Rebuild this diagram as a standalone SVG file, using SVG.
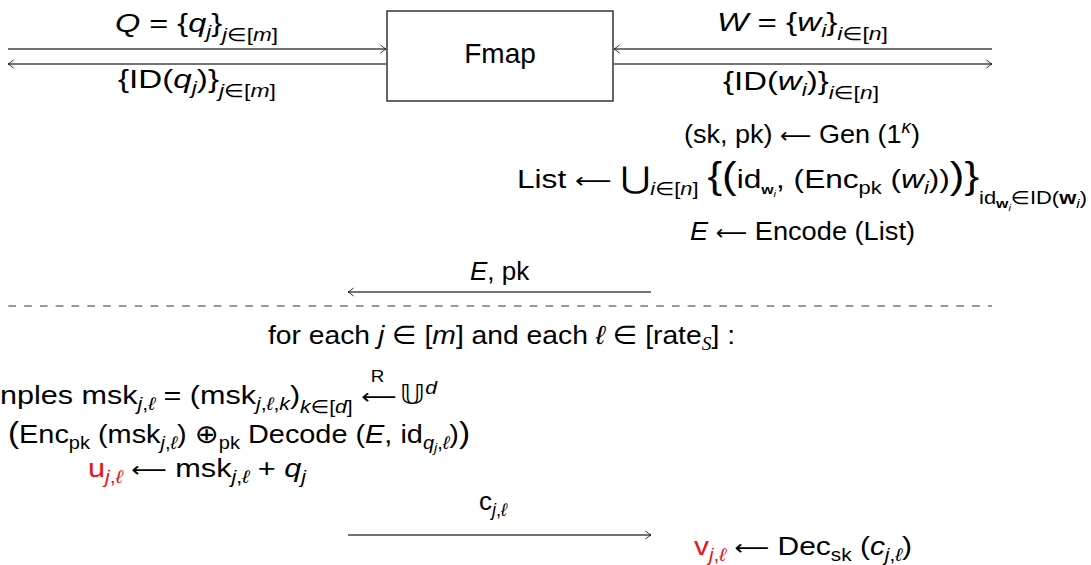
<svg xmlns="http://www.w3.org/2000/svg" width="1091" height="565" viewBox="0 0 1091 565">
<defs>
<style>
.t{font-family:"Liberation Sans","DejaVu Sans",sans-serif;font-size:26px;fill:#000}
.i{font-style:italic}
.s{font-size:18px}
.ss{font-size:13px}
.b{font-weight:bold}
.r{fill:#e8141c}
.ar{font-family:"DejaVu Sans",sans-serif;font-weight:normal;font-size:21px}
.big{font-size:36px}
.ln{stroke:#444;stroke-width:1.3;fill:none}
</style>
<marker id="ah" viewBox="-7 -5 8 10" markerWidth="8" markerHeight="10" refX="0" refY="0" orient="auto" markerUnits="userSpaceOnUse">
<path d="M-5.5,-4 Q-2,-1 0,0 Q-2,1 -5.5,4" fill="none" stroke="#222" stroke-width="1"/>
</marker>
</defs>
<rect width="1091" height="565" fill="#fff"/>

<g id="connectors">
<line class="ln" x1="8" y1="49" x2="386" y2="49" marker-end="url(#ah)"/>
<line class="ln" x1="386" y1="64" x2="8" y2="64" marker-end="url(#ah)"/>
<line class="ln" x1="992" y1="49" x2="614" y2="49" marker-end="url(#ah)"/>
<line class="ln" x1="614" y1="64" x2="992" y2="64" marker-end="url(#ah)"/>
<line class="ln" x1="651" y1="292" x2="348" y2="292" marker-end="url(#ah)"/>
<line class="ln" x1="348" y1="535" x2="651" y2="535" marker-end="url(#ah)"/>
<line x1="8.3" y1="306" x2="992" y2="306" stroke="#777" stroke-width="1.6" stroke-dasharray="7.7 8.1"/>
</g>

<g id="fmap">
<rect x="387" y="11" width="226" height="90" fill="#fff" stroke="#000" stroke-width="1.2"/>
<text class="t" x="500" y="63" text-anchor="middle" style="font-size:28px">Fmap</text>
</g>

<g id="labels-top">
<text class="t" x="115" y="32" textLength="163" lengthAdjust="spacingAndGlyphs"><tspan class="i">Q</tspan> = {<tspan class="i">q</tspan><tspan class="s i" dy="6">j</tspan><tspan dy="-6">}</tspan><tspan class="s" dy="9"><tspan class="i">j</tspan>∈[<tspan class="i">m</tspan>]</tspan></text>
<text class="t" x="118" y="88" textLength="158" lengthAdjust="spacingAndGlyphs">{ID(<tspan class="i">q</tspan><tspan class="s i" dy="6">j</tspan><tspan dy="-6">)}</tspan><tspan class="s" dy="9"><tspan class="i">j</tspan>∈[<tspan class="i">m</tspan>]</tspan></text>
<text class="t" x="717" y="31" textLength="171" lengthAdjust="spacingAndGlyphs"><tspan class="i">W</tspan> = {<tspan class="i">w</tspan><tspan class="s i" dy="6">i</tspan><tspan dy="-6">}</tspan><tspan class="s" dy="9"><tspan class="i">i</tspan>∈[<tspan class="i">n</tspan>]</tspan></text>
<text class="t" x="723" y="90" textLength="156" lengthAdjust="spacingAndGlyphs">{ID(<tspan class="i">w</tspan><tspan class="s i" dy="6">i</tspan><tspan dy="-6">)}</tspan><tspan class="s" dy="9"><tspan class="i">i</tspan>∈[<tspan class="i">n</tspan>]</tspan></text>
</g>

<g id="setup">
<text class="t" x="684" y="143" textLength="236" lengthAdjust="spacingAndGlyphs">(sk, pk) <tspan class="ar">⟵</tspan> Gen (1<tspan class="s i" dy="-10">κ</tspan><tspan dy="10">)</tspan></text>
<text class="t" x="517" y="188" textLength="570" lengthAdjust="spacingAndGlyphs">List <tspan class="ar">⟵</tspan> <tspan style="font-size:30px">⋃</tspan><tspan class="s" dy="7"><tspan class="i">i</tspan>∈[<tspan class="i">n</tspan>]</tspan><tspan dy="-7"> </tspan><tspan class="big">{</tspan><tspan class="big">(</tspan>id<tspan class="ss b" dy="6">w</tspan><tspan class="i" dy="3" style="font-size:9px">i</tspan><tspan dy="-9">, (Enc</tspan><tspan class="s" dy="6">pk</tspan><tspan dy="-6"> (</tspan><tspan class="i">w</tspan><tspan class="s i" dy="6">i</tspan><tspan dy="-6">))</tspan><tspan class="big">)</tspan><tspan class="big">}</tspan><tspan class="s" dy="16">id</tspan><tspan class="ss b" dy="4">w</tspan><tspan class="i" style="font-size:9px" dy="3">i</tspan><tspan class="s" dy="-7">∈ID(</tspan><tspan class="s b">w</tspan><tspan class="ss i" dy="4">i</tspan><tspan class="s" dy="-4">)</tspan></text>
<text class="t" x="690" y="240" textLength="225" lengthAdjust="spacingAndGlyphs"><tspan class="i">E</tspan> <tspan class="ar">⟵</tspan> Encode (List)</text>
<text class="t" x="470" y="280"><tspan class="i">E</tspan>, pk</text>
</g>

<g id="loop">
<text class="t" x="268" y="344" textLength="467" lengthAdjust="spacingAndGlyphs">for each <tspan class="i">j</tspan> ∈ [<tspan class="i">m</tspan>] and each <tspan class="i">ℓ</tspan> ∈ [rate<tspan class="s i" dy="6" style="font-family:'Liberation Serif',serif">S</tspan><tspan dy="-6">] :</tspan></text>
<text class="t" x="0" y="404" textLength="437" lengthAdjust="spacingAndGlyphs">nples msk<tspan class="s" dy="6"><tspan class="i">j</tspan>,<tspan class="i">ℓ</tspan></tspan><tspan dy="-6"> = (msk</tspan><tspan class="s" dy="6"><tspan class="i">j</tspan>,<tspan class="i">ℓ</tspan>,<tspan class="i">k</tspan></tspan><tspan dy="-6">)</tspan><tspan class="s" dy="9"><tspan class="i">k</tspan>∈[<tspan class="i">d</tspan>]</tspan><tspan dy="-9"> </tspan><tspan class="ar">⟵</tspan><tspan style="font-size:16px" dx="-22" dy="-22">R</tspan><tspan dx="6" dy="22"> 𝕌</tspan><tspan class="s i" dy="-10">d</tspan></text>
<text class="t" x="8" y="443" textLength="462" lengthAdjust="spacingAndGlyphs"><tspan style="font-size:30px">(</tspan>Enc<tspan class="s" dy="6">pk</tspan><tspan dy="-6"> (msk</tspan><tspan class="s" dy="6"><tspan class="i">j</tspan>,<tspan class="i">ℓ</tspan></tspan><tspan dy="-6">) ⊕</tspan><tspan class="s" dy="6">pk</tspan><tspan dy="-6"> Decode (</tspan><tspan class="i">E</tspan>, id<tspan class="s i" dy="6">q</tspan><tspan class="ss i" dy="3">j</tspan><tspan class="s" dy="-3">,<tspan class="i">ℓ</tspan></tspan><tspan dy="-6">)</tspan><tspan style="font-size:30px">)</tspan></text>
<text class="t" x="88" y="477" textLength="218" lengthAdjust="spacingAndGlyphs"><tspan class="r">u</tspan><tspan class="s r" dy="6"><tspan class="i">j</tspan>,<tspan class="i">ℓ</tspan></tspan><tspan dy="-6"> </tspan><tspan class="ar">⟵</tspan> msk<tspan class="s" dy="6"><tspan class="i">j</tspan>,<tspan class="i">ℓ</tspan></tspan><tspan dy="-6"> + </tspan><tspan class="i">q</tspan><tspan class="s i" dy="6">j</tspan></text>
<text class="t" x="479" y="510">c<tspan class="s" dy="6"><tspan class="i">j</tspan>,<tspan class="i">ℓ</tspan></tspan></text>
<text class="t" x="694" y="555" textLength="218" lengthAdjust="spacingAndGlyphs"><tspan class="r">v</tspan><tspan class="s r" dy="6"><tspan class="i">j</tspan>,<tspan class="i">ℓ</tspan></tspan><tspan dy="-6"> </tspan><tspan class="ar">⟵</tspan> Dec<tspan class="s" dy="6">sk</tspan><tspan dy="-6"> (</tspan><tspan class="i">c</tspan><tspan class="s" dy="6"><tspan class="i">j</tspan>,<tspan class="i">ℓ</tspan></tspan><tspan dy="-6">)</tspan></text>
</g>
</svg>
